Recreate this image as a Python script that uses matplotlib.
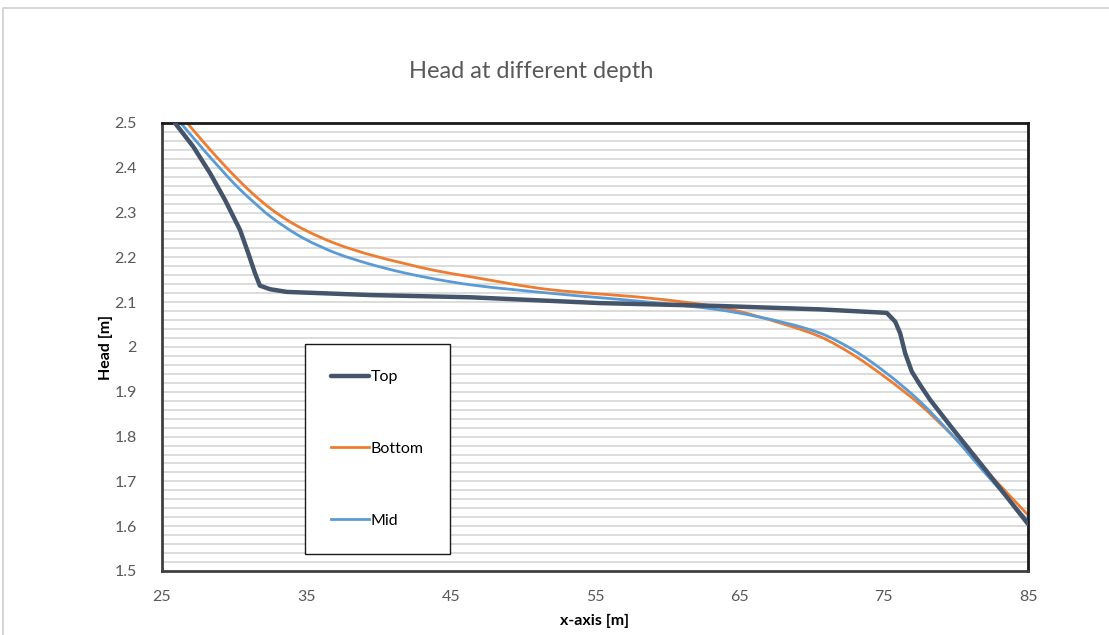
import matplotlib
matplotlib.use("Agg")
import matplotlib.pyplot as plt
from matplotlib.path import Path
from matplotlib.patches import PathPatch, Rectangle
from matplotlib.lines import Line2D
import numpy as np

plt.rcParams['font.family'] = ['Lato', 'DejaVu Sans']

# Head along the section for three depths
top_x = [25.9, 27.17, 28.33, 29.37, 30.41, 30.98, 31.44, 31.78, 32.48, 33.64, 39.41,
         46.34, 55.35, 63.67, 70.6, 74.99, 75.22, 75.8, 76.14, 76.49, 76.95, 77.53,
         78.22, 79.84, 82.15, 85.0]
top_y = [2.5, 2.447, 2.388, 2.328, 2.261, 2.209, 2.165, 2.137, 2.129, 2.123, 2.116,
         2.111, 2.098, 2.0915, 2.084, 2.0766, 2.076, 2.0565, 2.031, 1.986, 1.945, 1.915,
         1.882, 1.815, 1.722, 1.605]

bottom_x = [26.75, 27.86, 29.02, 30.17, 31.33, 32.48, 33.64, 34.79, 37.1, 39.41, 41.72, 44.03,
            46.34, 51.9, 58.8, 63.67, 68.29, 70.6, 72.91, 75.22, 77.53, 79.84, 82.15, 85.0]
bottom_y = [2.5, 2.458, 2.416, 2.377, 2.341, 2.310, 2.284, 2.263, 2.230, 2.206, 2.187, 2.170,
            2.157, 2.128, 2.109, 2.0886, 2.049, 2.023, 1.982, 1.930, 1.871, 1.800, 1.722, 1.625]

mid_x = [26.3, 27.86, 29.02, 30.17, 31.33, 32.48, 34.79, 37.1, 39.41, 41.72, 44.03,
         46.34, 51.9, 58.8, 63.67, 68.29, 70.6, 72.91, 75.22, 77.53, 79.84, 82.15, 85.0]
mid_y = [2.5, 2.441, 2.399, 2.359, 2.324, 2.292, 2.243, 2.209, 2.185, 2.166, 2.151,
         2.139, 2.120, 2.100, 2.0826, 2.053, 2.031, 1.993, 1.941, 1.878, 1.800, 1.714, 1.612]

x_ticks = [25, 35, 45, 55, 65, 75, 85]
y_ticks = [1.5, 1.6, 1.7, 1.8, 1.9, 2.0, 2.1, 2.2, 2.3, 2.4, 2.5]
y_tick_labels = ['1.5', '1.6', '1.7', '1.8', '1.9', '2', '2.1', '2.2', '2.3', '2.4', '2.5']

C_TOP = '#44546A'
C_BOTTOM = '#ED7D31'
C_MID = '#5B9BD5'
TXT = '#595959'


def smooth_path(xs, ys):
    """Cubic Bezier path through the points with shape-preserving (PCHIP) slopes."""
    x = np.asarray(xs, float)
    y = np.asarray(ys, float)
    h = np.diff(x)
    d = np.diff(y) / h
    n = len(x)
    m = np.zeros(n)
    for i in range(1, n - 1):
        if d[i - 1] * d[i] <= 0:
            m[i] = 0.0
        else:
            w1 = 2 * h[i] + h[i - 1]
            w2 = h[i] + 2 * h[i - 1]
            m[i] = (w1 + w2) / (w1 / d[i - 1] + w2 / d[i])
    m[0] = d[0]
    m[-1] = d[-1]
    verts = [(x[0], y[0])]
    codes = [Path.MOVETO]
    for i in range(n - 1):
        t = h[i] / 3
        verts += [(x[i] + t, y[i] + m[i] * t),
                  (x[i + 1] - t, y[i + 1] - m[i + 1] * t),
                  (x[i + 1], y[i + 1])]
        codes += [Path.CURVE4] * 3
    return Path(verts, codes)


fig = plt.figure(figsize=(11.09, 6.35), dpi=100)
fig.patches.append(Rectangle((3 / 1109, -0.05), 1.1, 1 - 8 / 635 + 0.05,
                             transform=fig.transFigure, fill=False,
                             edgecolor='#d0d0d0', linewidth=1.2))

ax = fig.add_axes([162 / 1109, 1 - 571 / 635, 866 / 1109, 448 / 635])
ax.set_xlim(25, 85)
ax.set_ylim(1.5, 2.5)

# horizontal gridlines every 0.02
for g in np.arange(1.52, 2.5, 0.02):
    ax.axhline(g, color='#d9d9d9', linewidth=1.3, zorder=0)

ax.plot(top_x, top_y, color=C_TOP, linewidth=3.2, solid_joinstyle='round',
        solid_capstyle='round', zorder=3)
ax.add_patch(PathPatch(smooth_path(bottom_x, bottom_y), facecolor='none',
                       edgecolor=C_BOTTOM, linewidth=2.0, zorder=2))
ax.add_patch(PathPatch(smooth_path(mid_x, mid_y), facecolor='none',
                       edgecolor=C_MID, linewidth=2.0, zorder=2))

ax.set_xticks(x_ticks)
ax.set_yticks(y_ticks)
ax.set_yticklabels(y_tick_labels)
ax.tick_params(axis='both', length=0, labelsize=11.5, labelcolor=TXT)
ax.tick_params(axis='x', pad=14)
ax.tick_params(axis='y', pad=18)
for s in ax.spines.values():
    s.set_color('#1a1a1a')
    s.set_linewidth(2.0)
ax.spines['left'].set_color('#404040')
ax.spines['bottom'].set_color('#404040')

ax.set_xlabel('x-axis [m]', fontsize=11.5, fontweight='bold', color='black', labelpad=7)
ax.set_ylabel('Head [m]', fontsize=11.5, fontweight='bold', color='black', labelpad=1)

fig.text(531 / 1109, 1 - 71 / 635, 'Head at different depth', ha='center', va='center',
         fontsize=17, color=TXT)

handles = [Line2D([], [], color=C_TOP, linewidth=3.2, solid_capstyle='round'),
           Line2D([], [], color=C_BOTTOM, linewidth=2.0),
           Line2D([], [], color=C_MID, linewidth=2.0)]
leg = ax.legend(handles, ['Top', 'Bottom', 'Mid'], loc='lower left',
                bbox_to_anchor=(305 / 866 - 162 / 866, 17 / 448), fontsize=11.5,
                handlelength=2.35, handletextpad=0.1, labelspacing=3.6,
                borderpad=1.65, borderaxespad=0, fancybox=False, frameon=True,
                labelcolor='black')
leg.get_frame().set_edgecolor('#1a1a1a')
leg.get_frame().set_linewidth(1.0)
leg.get_frame().set_facecolor('white')
leg.get_frame().set_alpha(1)

fig.savefig('out.png', dpi=100)
